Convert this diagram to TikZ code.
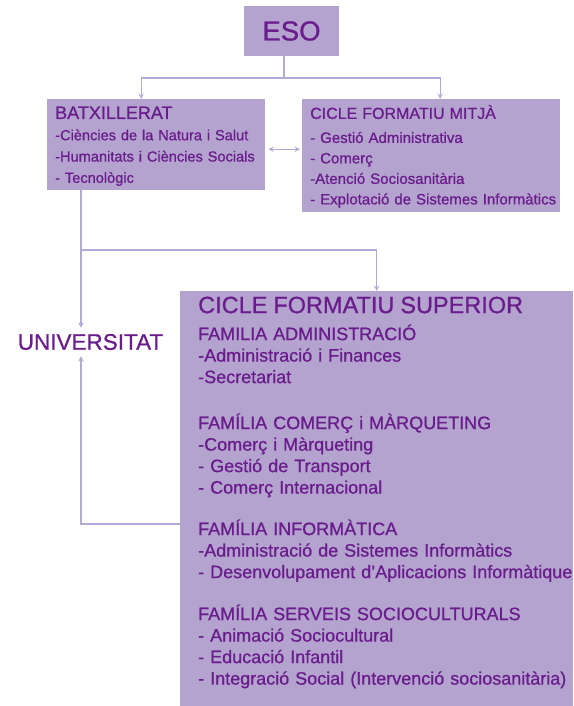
\documentclass[tikz,border=0pt]{standalone}
\usepackage{fontspec}
\setmainfont{Liberation Sans}[FakeBold=0.8]
\usepackage{xcolor}
\usetikzlibrary{arrows, positioning, calc}
\definecolor{lila}{RGB}{179,163,206}
\definecolor{tinta}{RGB}{106,28,140}
\definecolor{fil}{RGB}{178,170,212}
\tikzstyle{caixa} = [rectangle, fill=lila, text=tinta, inner sep=0pt, align=left]
\tikzstyle{linia} = [line width=1.4pt, draw=fil]
\tikzstyle{pas} = [line width=1.4pt, draw=fil, ->, >=stealth]
\tikzstyle{doble} = [line width=1.4pt, draw=fil, <->, >=stealth]

\begin{document}
\begin{tikzpicture}[x=1pt, y=-1pt]
      \useasboundingbox (0,0) rectangle (573,706);

      \node (eso) [caixa, align=center, minimum width=95pt, minimum height=50pt, font=\fontsize{27.5}{30}\selectfont] at (291.5,31) {ESO};

      \node (batx) [caixa, anchor=north west, text width=218pt, minimum height=91pt, font=\fontsize{14.6}{21.3}\selectfont, execute at begin node={\leftskip=8pt}] at (47,99)
        {\rule{0pt}{15.4pt}{\fontsize{18}{21.3}\selectfont BATXILLERAT}\\
         -Ciències de la Natura i Salut\\
         -Humanitats i Ciències Socials\\
         - Tecnològic};

      \node (mitja) [caixa, anchor=north west, text width=258pt, minimum height=113pt, font=\fontsize{15}{20.5}\selectfont, execute at begin node={\leftskip=8pt}] at (302,99)
        {\rule{0pt}{15pt}{\fontsize{16}{20.5}\selectfont CICLE FORMATIU MITJÀ}\\[3.5pt]
         - Gestió Administrativa\\
         - Comerç\\
         -Atenció Sociosanitària\\
         - Explotació de Sistemes Informàtics};

      \node (univ) [text=tinta, inner xsep=2pt, inner ysep=6pt, font=\fontsize{22.5}{24}\selectfont] at (90.5,342) {UNIVERSITAT};

      \node (sup) [caixa, anchor=north west, text width=393pt, inner ysep=5.5pt, font=\fontsize{18}{21.5}\selectfont, execute at begin node={\leftskip=18pt}] at (180,291)
        {{\fontsize{23.5}{28}\selectfont CICLE FORMATIU SUPERIOR}\\[5.5pt]
         FAMILIA ADMINISTRACIÓ\\
         -Administració i Finances\\
         -Secretariat\\[24.5pt]
         FAMÍLIA COMERÇ i MÀRQUETING\\
         -Comerç i Màrqueting\\
         - Gestió de Transport\\
         - Comerç Internacional\\[20pt]
         FAMÍLIA INFORMÀTICA\\
         -Administració de Sistemes Informàtics\\
         - Desenvolupament d’Aplicacions Informàtique\\[20.5pt]
         FAMÍLIA SERVEIS SOCIOCULTURALS\\
         - Animació Sociocultural\\
         - Educació Infantil\\
         - Integració Social (Intervenció sociosanitària)\rule[-16pt]{0pt}{0pt}};

      \coordinate (repart) at (284,78);
      \coordinate (branca) at (81,250);
      \draw [linia] (eso.south -| repart) -- (repart);
      \draw [pas] (repart) -| ([xshift=-15pt]batx.north);
      \draw [pas] (repart) -| ([xshift=9pt]mitja.north);
      \draw [doble, shorten <=3pt, shorten >=2pt] ([yshift=-4.5pt]batx.east) -- ([yshift=-4.5pt]batx.east -| mitja.west);
      \draw [linia] (batx.south -| branca) -- (branca);
      \draw [pas] (branca) -- (branca |- univ.north);
      \draw [pas] (branca) -| (sup.north);
      \draw [pas] ([yshift=-25.5pt]sup.west) -| (univ.south -| branca);
    \end{tikzpicture}
\end{document}
